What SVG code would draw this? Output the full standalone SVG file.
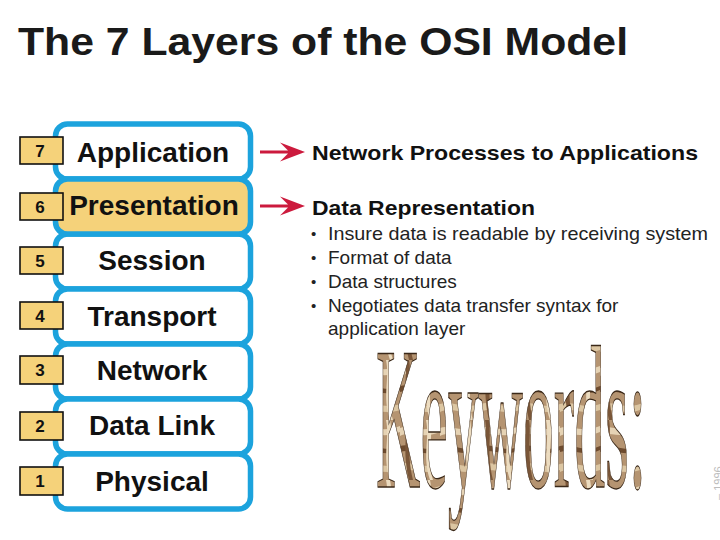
<svg xmlns="http://www.w3.org/2000/svg" width="720" height="540" viewBox="0 0 720 540">
<style>
.layer{fill:#fff;stroke:#1ca3dd;stroke-width:5.5}
.layer.sel{fill:#f5d27a}
.lname{font-family:"Liberation Sans",Arial,sans-serif;font-weight:bold;font-size:28px;fill:#111;text-anchor:middle}
.num{fill:#f5d27a;stroke:#111;stroke-width:1.6}
.numt{font-family:"Liberation Sans",Arial,sans-serif;font-weight:bold;font-size:17px;fill:#111;text-anchor:middle}
.head{font-family:"Liberation Sans",Arial,sans-serif;font-weight:bold;font-size:21px;fill:#111}
.bul{font-family:"Liberation Sans",Arial,sans-serif;font-size:19px;fill:#222}
.dot{font-family:"Liberation Sans",Arial,sans-serif;font-size:15px;fill:#222}
.arrow{fill:#cc1a3d}
</style>
<defs>
<pattern id="marble" patternUnits="userSpaceOnUse" width="40" height="60">
<rect width="40" height="60" fill="#b59471"/>
<path d="M0,8 C10,4 20,14 40,6 L40,12 C22,20 10,10 0,16 Z" fill="#e6d3b4"/>
<path d="M0,26 C12,22 24,34 40,26 L40,30 C24,38 12,28 0,32 Z" fill="#6e4b2e"/>
<path d="M0,44 C14,40 22,50 40,44 L40,50 C22,56 12,46 0,52 Z" fill="#dcc6a2"/>
<path d="M5,0 C8,15 2,30 9,60 L13,60 C6,30 12,15 9,0 Z" fill="#7a5638"/>
<path d="M26,0 C30,18 22,36 30,60 L33,60 C26,36 34,18 30,0 Z" fill="#ecdcc0"/>
</pattern>
</defs>

<text x="18" y="55" font-family="'Liberation Sans',Arial,sans-serif" font-weight="bold" font-size="39" fill="#1a1a1a" textLength="610" lengthAdjust="spacingAndGlyphs">The 7 Layers of the OSI Model</text>

<g id="layer7">
<rect class="layer" x="55.5" y="124" width="195" height="55" rx="12"/>
<text class="lname" x="153" y="162">Application</text>
<rect class="num" x="20" y="137" width="43" height="27"/>
<text class="numt" x="40" y="157">7</text>
</g>
<g id="layer5">
<rect class="layer" x="55.5" y="234" width="195" height="55" rx="12"/>
<text class="lname" x="152" y="270">Session</text>
<rect class="num" x="20" y="247" width="43" height="27"/>
<text class="numt" x="40" y="267">5</text>
</g>
<g id="layer4">
<rect class="layer" x="55.5" y="289" width="195" height="55" rx="12"/>
<text class="lname" x="152" y="326">Transport</text>
<rect class="num" x="20" y="302" width="43" height="27"/>
<text class="numt" x="40" y="322">4</text>
</g>
<g id="layer3">
<rect class="layer" x="55.5" y="344" width="195" height="55" rx="12"/>
<text class="lname" x="152" y="380">Network</text>
<rect class="num" x="20" y="356" width="43" height="28"/>
<text class="numt" x="40" y="376">3</text>
</g>
<g id="layer2">
<rect class="layer" x="55.5" y="399" width="195" height="55" rx="12"/>
<text class="lname" x="152" y="435">Data Link</text>
<rect class="num" x="20" y="412" width="43" height="28"/>
<text class="numt" x="40" y="432">2</text>
</g>
<g id="layer1">
<rect class="layer" x="55.5" y="454" width="195" height="55" rx="12"/>
<text class="lname" x="152" y="491">Physical</text>
<rect class="num" x="20" y="467" width="43" height="28"/>
<text class="numt" x="40" y="487">1</text>
</g>
<g id="layer6">
<rect class="layer sel" x="55.5" y="179" width="195" height="55" rx="12"/>
<text class="lname" x="154" y="215">Presentation</text>
<rect class="num" x="20" y="193" width="43" height="27"/>
<text class="numt" x="40" y="213">6</text>
</g>

<g id="connectors">
<path class="arrow" d="M260,150.5 L288,150.5 L280,142.5 L305,152 L280,161.5 L288,153.5 L260,153.5 Z"/>
<path class="arrow" d="M260,204.5 L288,204.5 L280,196.5 L305,206 L280,215.5 L288,207.5 L260,207.5 Z"/>
</g>

<g id="desc7">
<text class="head" x="312" y="160" textLength="386" lengthAdjust="spacingAndGlyphs">Network Processes to Applications</text>
</g>
<g id="desc6">
<text class="head" x="312" y="215" textLength="223" lengthAdjust="spacingAndGlyphs">Data Representation</text>
<text class="dot" x="311" y="239">•</text>
<text class="bul" x="328" y="240" textLength="380" lengthAdjust="spacingAndGlyphs">Insure data is readable by receiving system</text>
<text class="dot" x="311" y="263">•</text>
<text class="bul" x="328" y="264">Format of data</text>
<text class="dot" x="311" y="287">•</text>
<text class="bul" x="328" y="288">Data structures</text>
<text class="dot" x="311" y="311">•</text>
<text class="bul" x="328" y="312">Negotiates data transfer syntax for</text>
<text class="bul" x="328" y="335">application layer</text>
</g>

<text x="376" y="487" font-family="'Liberation Serif','Times New Roman',serif" font-size="204" fill="url(#marble)" stroke="#3a2818" stroke-width="1.3" textLength="270" lengthAdjust="spacingAndGlyphs">Keywords:</text>

<text transform="translate(722,500) rotate(-90)" font-family="'Liberation Sans',Arial,sans-serif" font-size="11" fill="#bdbdbd">– 1996</text>
</svg>
